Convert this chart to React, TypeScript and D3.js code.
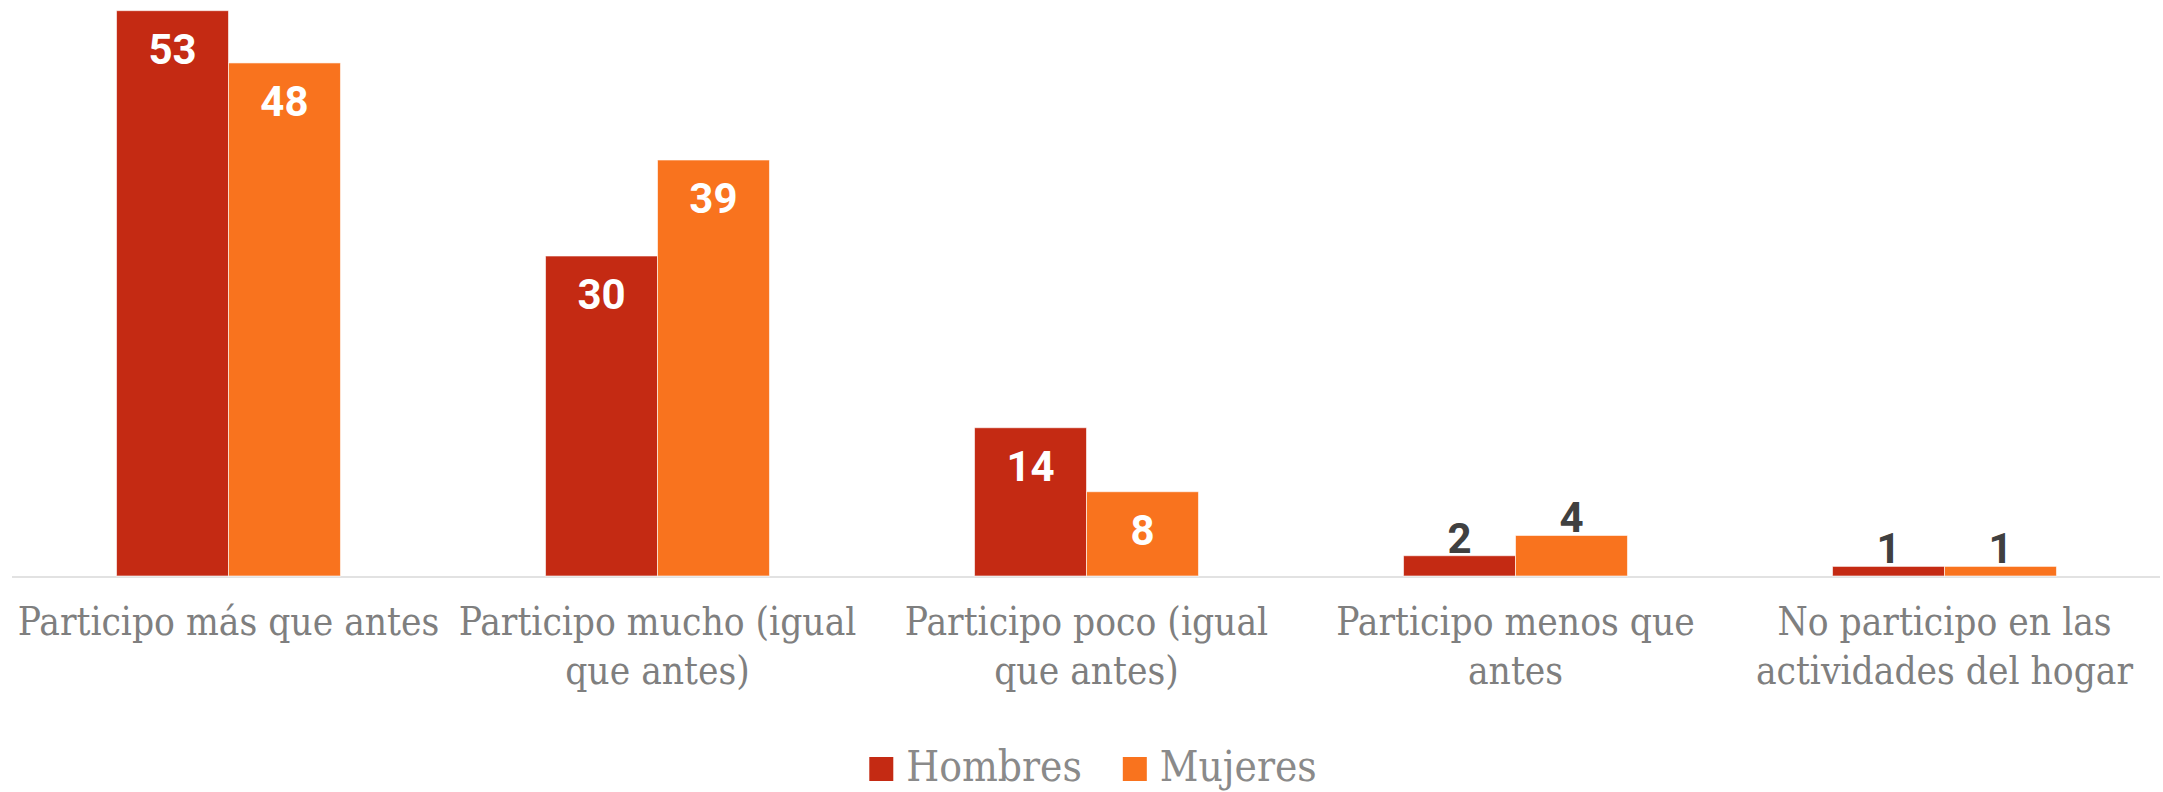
import * as d3 from 'd3';
import React, { useEffect, useRef } from 'react';

const categories = [
  'Participo más que antes',
  'Participo mucho (igual\nque antes)',
  'Participo poco (igual\nque antes)',
  'Participo menos que\nantes',
  'No participo en las\nactividades del hogar',
];
const seriesNames = ['Hombres', 'Mujeres'];
const hombres = [53.0, 30.0, 13.9, 1.9, 0.9];
const mujeres = [48.1, 39.0, 7.9, 3.8, 0.9];
const colors = ['#C42A13', '#F9731E'];

const W = 2163;
const H = 792;

export default function App() {
  const ref = useRef<SVGSVGElement>(null);

  useEffect(() => {
    const svg = d3.select(ref.current);
    svg.selectAll('*').remove();

    const baseY = 576;
    const x0 = d3.scaleBand<string>()
      .domain(categories)
      .range([14, 2159])
      .paddingInner(0.478)
      .paddingOuter(0.239);
    const x1 = d3.scaleBand<string>()
      .domain(seriesNames)
      .range([0, x0.bandwidth()]);
    const y = d3.scaleLinear().domain([0, 54]).range([baseY, 0]);

    const values = [hombres, mujeres];
    const rows = categories.map((c, i) => ({
      cat: c,
      vals: seriesNames.map((s, j) => ({ s, j, v: values[j][i] })),
    }));

    // axis line
    svg.append('line')
      .attr('x1', 12)
      .attr('x2', 2160)
      .attr('y1', baseY + 1)
      .attr('y2', baseY + 1)
      .style('stroke', '#E2E2E2')
      .style('stroke-width', 2);

    const groups = svg.selectAll('g.grp')
      .data(rows)
      .enter()
      .append('g')
      .attr('class', 'grp')
      .attr('transform', d => `translate(${x0(d.cat)}, 0)`);

    groups.selectAll('rect')
      .data(d => d.vals)
      .enter()
      .append('rect')
      .attr('x', d => x1(d.s)!)
      .attr('y', d => y(d.v))
      .attr('width', x1.bandwidth())
      .attr('height', d => baseY - y(d.v))
      .style('fill', d => colors[d.j])
      .style('stroke', 'rgba(255,255,255,0.6)')
      .style('stroke-width', 1);

    const fmt = d3.format('.0f');
    groups.selectAll('text.val')
      .data(d => d.vals)
      .enter()
      .append('text')
      .attr('class', 'val')
      .attr('x', d => x1(d.s)! + x1.bandwidth() / 2)
      .attr('y', d => (d.v >= 6 ? y(d.v) + 53 : y(d.v) - 3))
      .attr('text-anchor', 'middle')
      .style('font-family', 'Roboto, sans-serif')
      .style('font-weight', 700)
      .style('font-size', '42px')
      .style('fill', d => (d.v >= 6 ? '#FFFFFF' : '#404040'))
      .text(d => fmt(d.v));

    // category labels
    const labels = svg.selectAll('text.cat')
      .data(categories)
      .enter()
      .append('text')
      .attr('class', 'cat')
      .attr('text-anchor', 'middle')
      .attr('transform', d => `translate(${x0(d)! + x0.bandwidth() / 2}, 635)`)
      .style('font-family', '"DejaVu Serif Condensed", "DejaVu Serif", serif')
      .style('font-size', '38.5px')
      .style('fill', '#7F7F7F');
    labels.each(function (d) {
      const t = d3.select(this);
      d.split('\n').forEach((line, i) => {
        t.append('tspan').attr('x', 0).attr('y', i * 49).text(line);
      });
    });

    // legend
    const legend = svg.append('g');
    let cx = 0;
    seriesNames.forEach((s, i) => {
      const g = legend.append('g').attr('transform', `translate(${cx}, 0)`);
      g.append('rect')
        .attr('x', 0)
        .attr('y', -24)
        .attr('width', 24)
        .attr('height', 24)
        .style('fill', colors[i]);
      const t = g.append('text')
        .attr('x', 37)
        .attr('y', 0)
        .style('font-family', '"DejaVu Serif Condensed", "DejaVu Serif", serif')
        .style('font-size', '42px')
        .style('fill', '#8A8A8A')
        .text(s);
      const len = (t.node() as SVGTextElement).getComputedTextLength();
      cx += 37 + len + 41;
    });
    const total = cx - 41;
    legend.attr('transform', `translate(${1093 - total / 2}, 781)`);
  }, []);

  return (
    <svg
      ref={ref}
      width={W}
      height={H}
      style={{ position: 'absolute', left: 0, top: 0, background: '#fff' }}
    />
  );
}
